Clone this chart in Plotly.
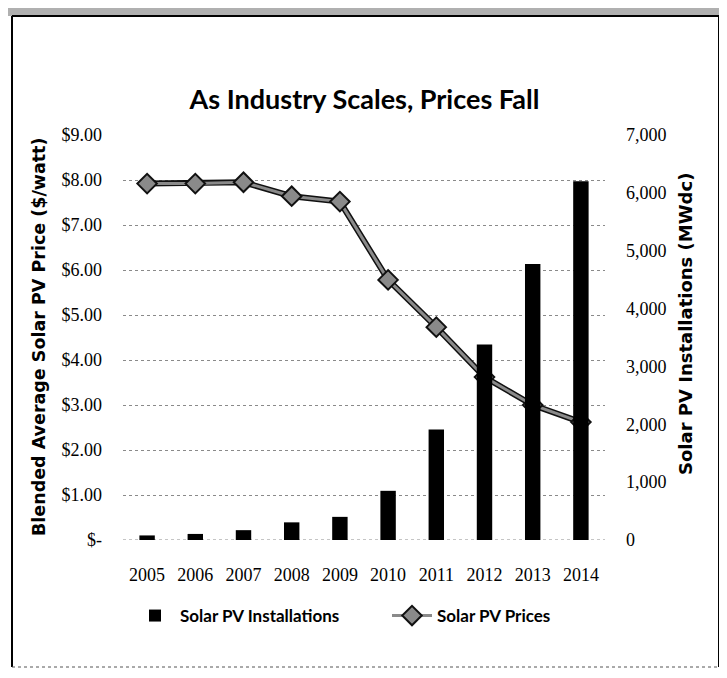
import plotly.graph_objects as go

years = ["2005", "2006", "2007", "2008", "2009", "2010", "2011", "2012", "2013", "2014"]
installations = [79, 105, 170, 305, 400, 850, 1910, 3380, 4770, 6200]
prices = [7.92, 7.92, 7.95, 7.64, 7.52, 5.78, 4.73, 3.62, 3.00, 2.62]

price_ticks = [0, 1, 2, 3, 4, 5, 6, 7, 8, 9]
price_labels = ["$-", "$1.00", "$2.00", "$3.00", "$4.00", "$5.00", "$6.00", "$7.00", "$8.00", "$9.00"]

# page body has an 8px default margin; figure sized to fill the rest of the window
OFF = 8
W, H = 727 - OFF, 678 - OFF
L, T = 123 - OFF, 135 - OFF
pw, ph = 482, 405
R, B = W - L - pw, H - T - ph

def px(x):  # page pixel x -> paper
    return (x - OFF - L) / pw

def py(y):  # page pixel y -> paper
    return (T + ph - (y - OFF)) / ph

fig = go.Figure()
fig.add_trace(go.Bar(
    x=years, y=installations, name="Solar PV Installations",
    marker=dict(color="black", line=dict(width=0)), yaxis="y2", legend="legend",
))
fig.add_trace(go.Scatter(
    x=years, y=prices, mode="lines", showlegend=False, hoverinfo="skip",
    line=dict(color="#111111", width=6),
))
fig.add_trace(go.Scatter(
    x=years, y=prices, name="Solar PV Prices", mode="lines+markers", legend="legend2",
    line=dict(color="#8a8a8a", width=3),
    marker=dict(symbol="diamond", size=15, color="#8a8a8a",
                line=dict(color="#111111", width=2)),
))

tick_font = dict(family="Liberation Serif", size=18, color="black")
leg_font = dict(family="Lato", size=17, color="black", weight="bold")

fig.update_layout(
    width=W, height=H,
    margin=dict(l=L, r=R, t=T, b=B),
    paper_bgcolor="white", plot_bgcolor="white",
    title=dict(text="<b>As Industry Scales, Prices Fall</b>",
               x=px(362), xanchor="center", y=1 - (100 - OFF) / H, yanchor="middle",
               font=dict(family="Lato", size=27, color="black")),
    bargap=0.68,
    xaxis=dict(
        type="category", range=[-0.5, 9.5], showgrid=False, showline=False, ticks="",
        tickfont=tick_font, ticklabelstandoff=22,
    ),
    yaxis=dict(
        range=[0, 9], tickvals=price_ticks, ticktext=price_labels,
        showgrid=True, gridcolor="#8a8a8a", gridwidth=1, griddash="dot",
        zeroline=False, showline=False, ticks="",
        tickfont=tick_font, ticklabelstandoff=20,
    ),
    yaxis2=dict(
        range=[0, 7000], dtick=1000, tickformat=",", overlaying="y", side="right",
        showgrid=False, zeroline=False, showline=False, ticks="",
        tickfont=tick_font, ticklabelstandoff=20,
    ),
    legend=dict(
        orientation="h", x=px(130), xanchor="left", y=py(616), yanchor="middle",
        font=leg_font, itemwidth=40, bgcolor="rgba(0,0,0,0)",
    ),
    legend2=dict(
        orientation="h", x=px(387), xanchor="left", y=py(616), yanchor="middle",
        font=leg_font, itemwidth=40, bgcolor="rgba(0,0,0,0)",
    ),
    showlegend=True,
    annotations=[
        dict(text="<b>Blended Average Solar PV Price ($/watt)</b>", textangle=-90,
             xref="paper", yref="paper", x=px(39), y=py(337), showarrow=False,
             xanchor="center", yanchor="middle",
             font=dict(family="DejaVu Sans", size=17.5, color="black")),
        dict(text="<b>Solar PV Installations (MWdc)</b>", textangle=-90,
             xref="paper", yref="paper", x=px(685), y=py(324), showarrow=False,
             xanchor="center", yanchor="middle",
             font=dict(family="DejaVu Sans", size=18, color="black")),
    ],
    shapes=[
        dict(type="line", xref="paper", yref="y", x0=0, x1=1, y0=0, y1=0,
             line=dict(color="#8a8a8a", width=1, dash="dot"), layer="below"),
        dict(type="rect", xref="paper", yref="paper", x0=px(OFF), x1=px(727),
             y0=py(16), y1=py(OFF), fillcolor="#b0b0b0", line=dict(width=0), layer="below"),
        dict(type="line", xref="paper", yref="paper", x0=px(12), x1=px(12),
             y0=py(667), y1=py(16), line=dict(color="black", width=2)),
        dict(type="line", xref="paper", yref="paper", x0=px(719), x1=px(719),
             y0=py(667), y1=py(16), line=dict(color="black", width=2)),
        dict(type="line", xref="paper", yref="paper", x0=px(12), x1=px(719),
             y0=py(16), y1=py(16), line=dict(color="black", width=2)),
        dict(type="line", xref="paper", yref="paper", x0=px(12), x1=px(719),
             y0=py(667), y1=py(667), line=dict(color="#555555", width=1, dash="dot")),
    ],
)

fig.write_html("out.html")
